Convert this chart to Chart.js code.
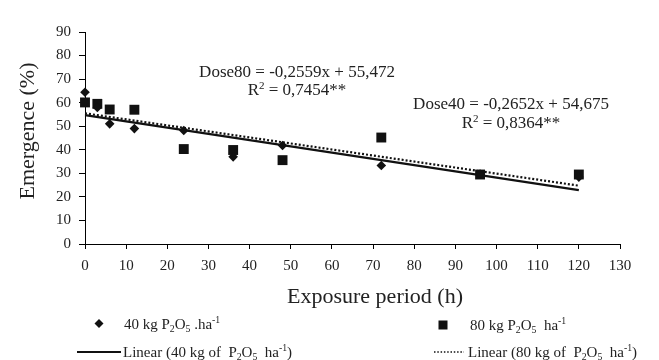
<!DOCTYPE html>
<html><head><meta charset="utf-8">
<script src="https://cdn.jsdelivr.net/npm/chart.js@4/dist/chart.umd.min.js"></script>
<style>html,body{margin:0;padding:0;background:#fff;}</style>
</head><body>
<canvas id="c" width="659" height="360"></canvas>
<script>
// ---- data ----
const hours = [0, 3, 6, 12, 24, 36, 48, 72, 96, 120];
const dose40 = [64.4, 58, 51, 49, 48.2, 37, 41.8, 33.3, 29.7, 28.4];
const dose80 = [60.1, 59.5, 57.1, 57, 40.3, 39.9, 35.6, 45.2, 29.5, 29.5];
const trendX = [0, 120];
const trend40 = [54.675, 22.851];
const trend80 = [55.472, 24.764];
const xTicks = [0, 10, 20, 30, 40, 50, 60, 70, 80, 90, 100, 110, 120, 130];
const yTicks = [0, 10, 20, 30, 40, 50, 60, 70, 80, 90];
const xTitle = 'Exposure period (h)';
const yTitle = 'Emergence (%)';
const eq80 = [[{t:'Dose80 = -0,2559x + 55,472'}], [{t:'R'},{t:'2',sup:true},{t:' = 0,7454**'}]];
const eq40 = [[{t:'Dose40 = -0,2652x + 54,675'}], [{t:'R'},{t:'2',sup:true},{t:' = 0,8364**'}]];
const leg40 = [{t:'40 kg P'},{t:'2',sub:true},{t:'O'},{t:'5',sub:true},{t:' .ha'},{t:'-1',sup:true}];
const leg80 = [{t:'80 kg P'},{t:'2',sub:true},{t:'O'},{t:'5',sub:true},{t:'  ha'},{t:'-1',sup:true}];
const legLin40 = [{t:'Linear (40 kg of  P'},{t:'2',sub:true},{t:'O'},{t:'5',sub:true},{t:'  ha'},{t:'-1',sup:true},{t:')'}];
const legLin80 = [{t:'Linear (80 kg of  P'},{t:'2',sub:true},{t:'O'},{t:'5',sub:true},{t:'  ha'},{t:'-1',sup:true},{t:')'}];

const FONT = "'Liberation Serif', 'Times New Roman', serif";
const TXT = '#222';

function toPts(xs, ys){ return xs.map((x,i)=>({x:x, y:ys[i]})); }

function richWidth(ctx, segs, size){
  let w = 0;
  for (const s of segs){
    const fs = (s.sub||s.sup) ? size*0.65 : size;
    ctx.font = fs + 'px ' + FONT;
    w += ctx.measureText(s.t).width;
  }
  return w;
}
function drawRich(ctx, segs, x, y, size, align){
  const w = richWidth(ctx, segs, size);
  let cx = align === 'center' ? x - w/2 : x;
  ctx.textBaseline = 'alphabetic';
  ctx.textAlign = 'left';
  for (const s of segs){
    const fs = (s.sub||s.sup) ? size*0.65 : size;
    ctx.font = fs + 'px ' + FONT;
    let dy = 0;
    if (s.sub) dy = size*0.2;
    if (s.sup) dy = -size*0.38;
    ctx.fillText(s.t, cx, y + dy);
    cx += ctx.measureText(s.t).width;
  }
}

const extras = {
  id: 'extras',
  afterDraw(chart){
    const ctx = chart.ctx;
    ctx.save();
    ctx.fillStyle = TXT;
    ctx.save();
    ctx.translate(28, 131);
    ctx.rotate(-Math.PI/2);
    ctx.font = '22px ' + FONT;
    ctx.textAlign = 'center';
    ctx.textBaseline = 'middle';
    ctx.fillText(yTitle, 0, 0);
    ctx.restore();
    ctx.font = '22px ' + FONT;
    ctx.textAlign = 'center';
    ctx.textBaseline = 'middle';
    ctx.fillText(xTitle, 375, 297);
    drawRich(ctx, eq80[0], 297, 77, 17, 'center');
    drawRich(ctx, eq80[1], 297, 95, 17, 'center');
    drawRich(ctx, eq40[0], 511, 109, 17, 'center');
    drawRich(ctx, eq40[1], 511, 128, 17, 'center');
    ctx.fillStyle = '#111';
    ctx.beginPath();
    ctx.moveTo(99, 319); ctx.lineTo(103.5, 323.5); ctx.lineTo(99, 328); ctx.lineTo(94.5, 323.5); ctx.closePath(); ctx.fill();
    ctx.fillRect(438.5, 320.5, 9, 9);
    ctx.strokeStyle = '#111';
    ctx.lineWidth = 2;
    ctx.beginPath(); ctx.moveTo(77, 352); ctx.lineTo(121, 352); ctx.stroke();
    ctx.lineWidth = 1.5;
    ctx.setLineDash([1.5, 1.8]);
    ctx.beginPath(); ctx.moveTo(434, 352); ctx.lineTo(464, 352); ctx.stroke();
    ctx.setLineDash([]);
    ctx.fillStyle = TXT;
    drawRich(ctx, leg40, 124, 329, 15, 'left');
    drawRich(ctx, leg80, 470, 330, 15, 'left');
    drawRich(ctx, legLin40, 123, 357, 15, 'left');
    drawRich(ctx, legLin80, 468, 357, 15, 'left');
    ctx.restore();
  }
};

new Chart(document.getElementById('c'), {
  type: 'scatter',
  data: {
    datasets: [
      { label: '40', data: toPts(hours, dose40), pointStyle: 'rectRot', pointRadius: 4.8, clip: false,
        backgroundColor: '#111', borderColor: '#111', borderWidth: 0, showLine: false, order: 1 },
      { label: '80', data: toPts(hours, dose80), pointStyle: 'rect', pointRadius: 7, clip: false,
        backgroundColor: '#111', borderColor: '#111', borderWidth: 0, showLine: false, order: 2 },
      { label: 'lin40', data: toPts(trendX, trend40), showLine: true, pointRadius: 0, clip: false,
        borderColor: '#111', borderWidth: 2.2, order: 3 },
      { label: 'lin80', data: toPts(trendX, trend80), showLine: true, pointRadius: 0, clip: false,
        borderColor: '#111', borderWidth: 2.2, borderDash: [2, 2], order: 4 }
    ]
  },
  options: {
    responsive: false,
    animation: false,
    events: [],
    layout: { padding: { top: 32, right: 39, left: 0, bottom: 0 } },
    plugins: { legend: { display: false }, tooltip: { enabled: false } },
    scales: {
      x: {
        type: 'linear', min: 0, max: 130,
        afterBuildTicks: s => { s.ticks = xTicks.map(v => ({value: v})); },
        afterFit: s => { s.height = 116; },
        grid: { drawOnChartArea: false, drawTicks: true, tickLength: 5, color: '#000', lineWidth: 1 },
        border: { display: true, color: '#000', width: 1 },
        ticks: { color: TXT, font: { family: FONT, size: 15 }, padding: 8, maxRotation: 0 }
      },
      y: {
        type: 'linear', min: 0, max: 90,
        afterBuildTicks: s => { s.ticks = yTicks.map(v => ({value: v})); },
        afterFit: s => { s.width = 85; },
        grid: { drawOnChartArea: false, drawTicks: true, tickLength: 6, color: '#000', lineWidth: 1 },
        border: { display: true, color: '#000', width: 1 },
        ticks: { color: TXT, font: { family: FONT, size: 15 }, padding: 8 }
      }
    }
  },
  plugins: [extras]
});
</script>
</body></html>
